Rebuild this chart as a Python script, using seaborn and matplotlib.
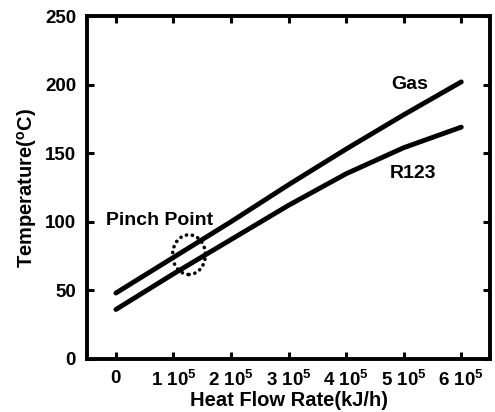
import matplotlib
matplotlib.use("Agg")
import matplotlib.pyplot as plt
from matplotlib.patches import Ellipse
import seaborn as sns
import pandas as pd

# values
heat_flow = [0, 1e5, 2e5, 3e5, 4e5, 5e5, 6e5]
gas_temp = [48, 74, 100, 127, 153, 178, 202]
r123_temp = [36, 62, 87, 112, 135, 154, 169]

x_ticks = [0, 1e5, 2e5, 3e5, 4e5, 5e5, 6e5]
x_tick_labels = ["0"] + [r"%d 10$^{5}$" % i for i in range(1, 7)]
y_ticks = [0, 50, 100, 150, 200, 250]

sns.set_style("ticks")
plt.rcParams["font.family"] = ["Liberation Sans", "DejaVu Sans"]
plt.rcParams["font.weight"] = "bold"
plt.rcParams["mathtext.fontset"] = "custom"
plt.rcParams["mathtext.rm"] = "Liberation Sans:bold"
plt.rcParams["mathtext.it"] = "Liberation Sans:bold"
plt.rcParams["mathtext.bf"] = "Liberation Sans:bold"
for key in ["text.color", "axes.labelcolor", "xtick.color", "ytick.color", "axes.edgecolor"]:
    plt.rcParams[key] = "black"

df = pd.DataFrame({
    "flow": heat_flow * 2,
    "temp": gas_temp + r123_temp,
    "fluid": ["Gas"] * len(heat_flow) + ["R123"] * len(heat_flow),
})

fig = plt.figure(figsize=(4.95, 4.12), dpi=100)
ax = fig.add_axes([0.176, 0.129, 0.814, 0.832])

sns.lineplot(data=df, x="flow", y="temp", units="fluid", estimator=None,
             color="black", linewidth=3.5, legend=False, ax=ax)

# pinch point marker (dotted ellipse)
pinch = Ellipse((1.27e5, 76), 0.57e5, 29, fill=False, zorder=5,
                edgecolor="black", linestyle=(0, (0.05, 1.6)), linewidth=2.6)
pinch.set_capstyle("round")
ax.add_patch(pinch)

ax.text(-0.17e5, 101, "Pinch Point", fontsize=14, fontweight="bold", va="center")
ax.text(5.11e5, 200, "Gas", fontsize=14, fontweight="bold", ha="center", va="center")
ax.text(5.17e5, 135, "R123", fontsize=14, fontweight="bold", ha="center", va="center")

ax.set_xlim(-0.5e5, 6.5e5)
ax.set_ylim(0, 250)
ax.set_xticks(x_ticks)
ax.set_xticklabels(x_tick_labels)
ax.set_yticks(y_ticks)
ax.tick_params(direction="in", length=5, width=2.2, top=True, right=True,
               labelsize=13.5, pad=8)
for lbl in ax.get_xticklabels() + ax.get_yticklabels():
    lbl.set_fontweight("bold")
for sp in ax.spines.values():
    sp.set_linewidth(2.8)
    sp.set_color("black")

ax.set_xlabel("Heat Flow Rate(kJ/h)", fontsize=14.5, fontweight="bold", labelpad=1)
ax.set_ylabel(r"Temperature($^{o}$C)", fontsize=14.5, fontweight="bold", labelpad=4)

fig.savefig("out.png", dpi=100)
